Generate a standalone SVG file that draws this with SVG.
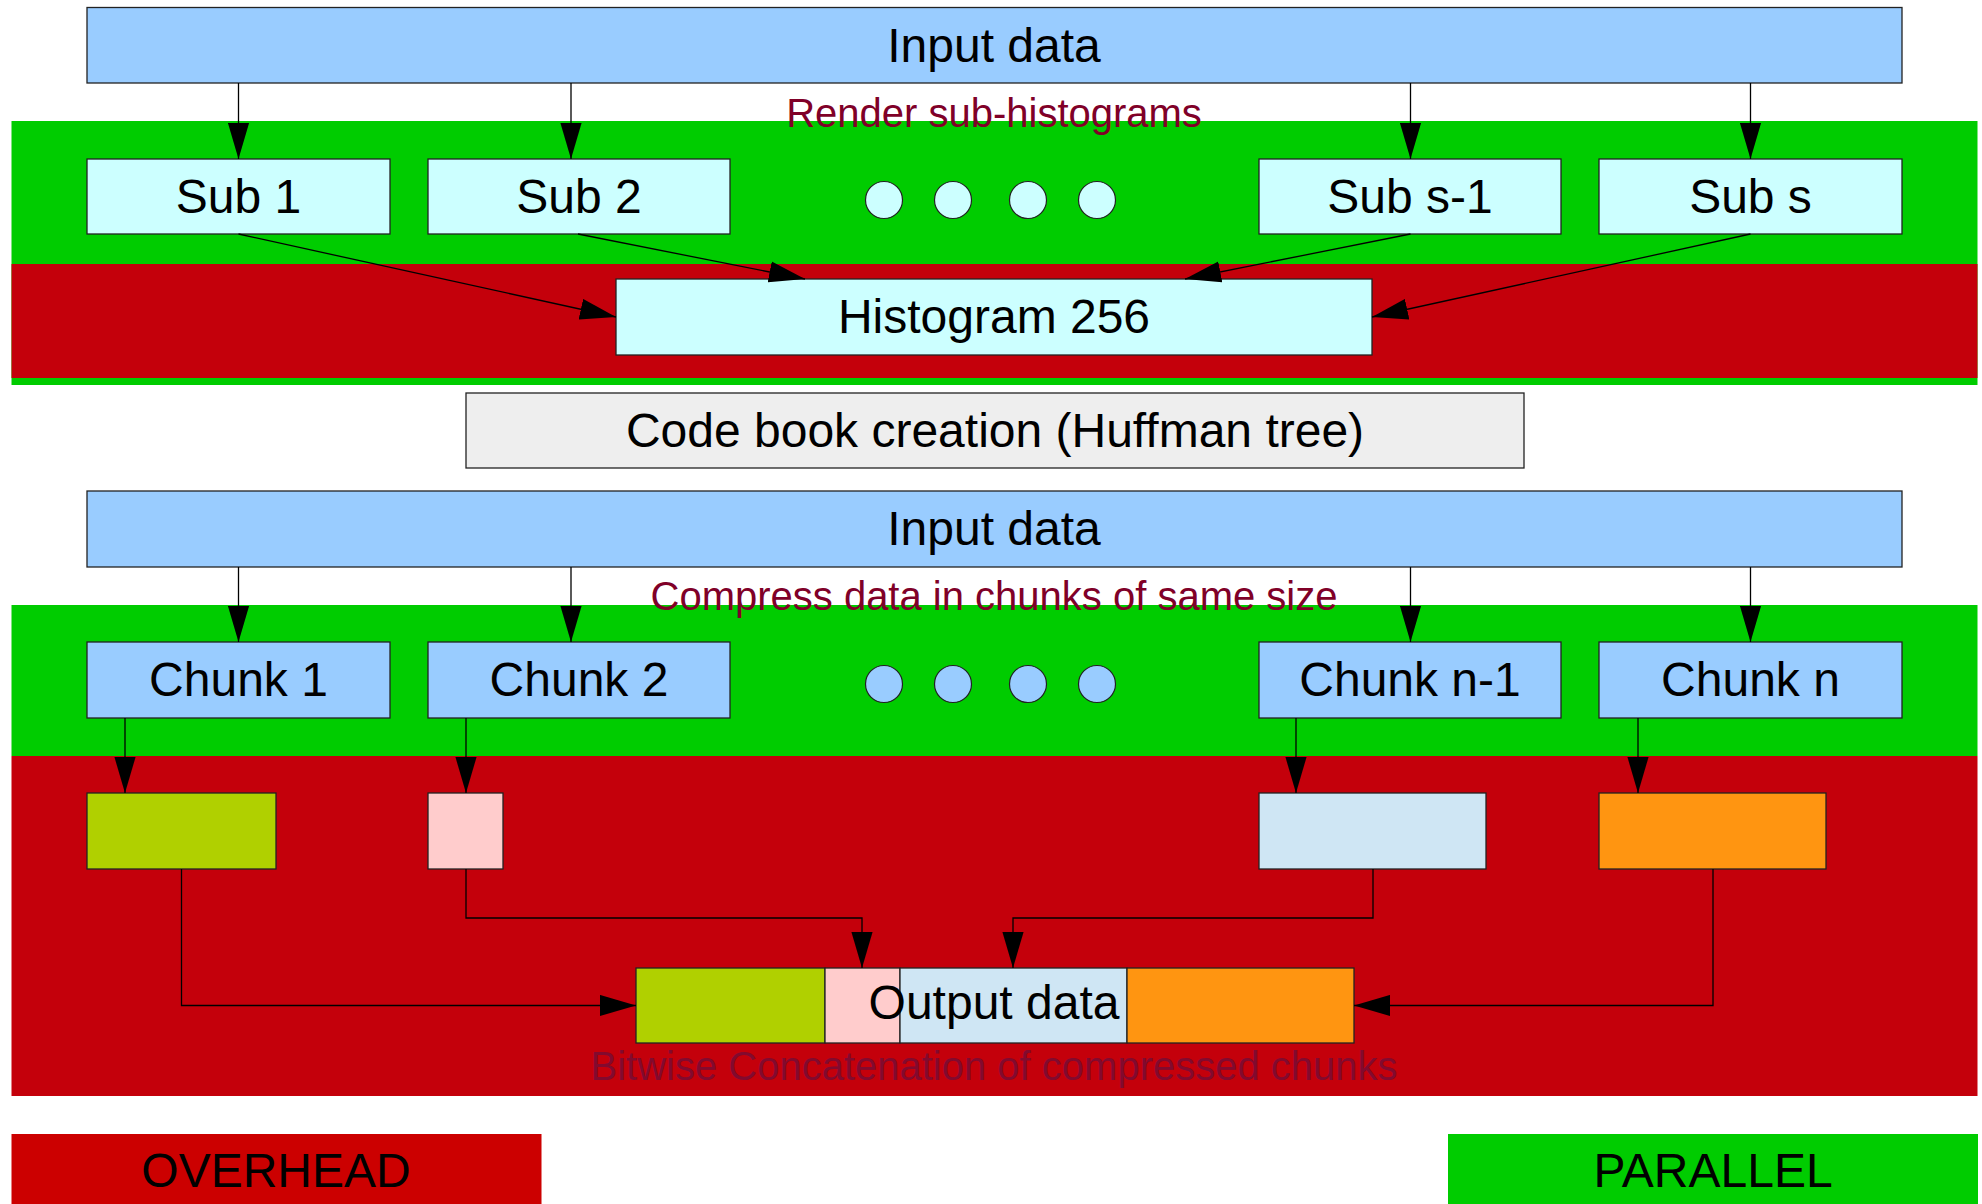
<svg xmlns="http://www.w3.org/2000/svg" width="1982" height="1204" viewBox="0 0 1982 1204">
<style>
text{font-family:"Liberation Sans",Arial,sans-serif;text-anchor:middle}
.big{font-size:48px;fill:#000}
.lbl{font-size:40px;fill:#800028}
.box{stroke:#222;stroke-width:1.3}
.blue{fill:#99ccff}
.cyan{fill:#ccffff}
.conn{fill:none;stroke:#000;stroke-width:1.3}
.dot{stroke:#222;stroke-width:1.2}
</style>
<defs>
<marker id="ah" markerUnits="userSpaceOnUse" markerWidth="36" markerHeight="22" viewBox="0 0 34 20" refX="34" refY="10" orient="auto">
<path d="M0,0 L34,10 L0,20 z" fill="#000"/>
</marker>
</defs>
<rect width="1982" height="1204" fill="#fff"/>
<g id="bands">
<rect x="11.5" y="121" width="1966" height="264" fill="#00cc00"/>
<rect x="11.5" y="264" width="1966" height="114" fill="#c4000b"/>
<rect x="11.5" y="605" width="1966" height="151" fill="#00cc00"/>
<rect x="11.5" y="756" width="1966" height="340" fill="#c4000b"/>
</g>
<g id="label-render"><text class="lbl" x="994" y="127">Render sub-histograms</text></g>
<g id="input1"><rect class="box blue" x="87" y="7.5" width="1815" height="75.5"/><text class="big" x="994" y="62">Input data</text></g>
<g id="sub1"><rect class="box cyan" x="87" y="159" width="303" height="75"/><text class="big" x="238.5" y="213">Sub 1</text></g>
<g id="sub2"><rect class="box cyan" x="428" y="159" width="302" height="75"/><text class="big" x="579" y="213">Sub 2</text></g>
<g id="subs1"><rect class="box cyan" x="1259" y="159" width="302" height="75"/><text class="big" x="1410" y="213">Sub s-1</text></g>
<g id="subs"><rect class="box cyan" x="1599" y="159" width="303" height="75"/><text class="big" x="1750.5" y="213">Sub s</text></g>
<g id="dots1" class="cyan">
<ellipse class="dot" cx="884" cy="200" rx="18.5" ry="18.5"/>
<ellipse class="dot" cx="953" cy="200" rx="18.5" ry="18.5"/>
<ellipse class="dot" cx="1028" cy="200" rx="18.5" ry="18.5"/>
<ellipse class="dot" cx="1097" cy="200" rx="18.5" ry="18.5"/>
</g>
<g id="hist"><rect class="box cyan" x="616" y="279" width="756" height="76"/><text class="big" x="994" y="333">Histogram 256</text></g>
<g id="codebook"><rect class="box" fill="#eeeeee" x="466" y="393" width="1058" height="75"/><text class="big" x="995" y="447">Code book creation (Huffman tree)</text></g>
<g id="label-compress"><text class="lbl" x="994" y="610">Compress data in chunks of same size</text></g>
<g id="input2"><rect class="box blue" x="87" y="491" width="1815" height="76"/><text class="big" x="994" y="545">Input data</text></g>
<g id="chunk1"><rect class="box blue" x="87" y="642" width="303" height="76"/><text class="big" x="238.5" y="696">Chunk 1</text></g>
<g id="chunk2"><rect class="box blue" x="428" y="642" width="302" height="76"/><text class="big" x="579" y="696">Chunk 2</text></g>
<g id="chunkn1"><rect class="box blue" x="1259" y="642" width="302" height="76"/><text class="big" x="1410" y="696">Chunk n-1</text></g>
<g id="chunkn"><rect class="box blue" x="1599" y="642" width="303" height="76"/><text class="big" x="1750.5" y="696">Chunk n</text></g>
<g id="dots2" class="blue">
<ellipse class="dot" cx="884" cy="684" rx="18.5" ry="18.5"/>
<ellipse class="dot" cx="953" cy="684" rx="18.5" ry="18.5"/>
<ellipse class="dot" cx="1028" cy="684" rx="18.5" ry="18.5"/>
<ellipse class="dot" cx="1097" cy="684" rx="18.5" ry="18.5"/>
</g>
<g id="comp1"><rect class="box" fill="#b0d000" x="87" y="793" width="189" height="76"/></g>
<g id="comp2"><rect class="box" fill="#ffcccc" x="428" y="793" width="75" height="76"/></g>
<g id="compn1"><rect class="box" fill="#cfe6f4" x="1259" y="793" width="227" height="76"/></g>
<g id="compn"><rect class="box" fill="#ff9511" x="1599" y="793" width="227" height="76"/></g>
<g id="output">
<rect class="box" fill="#b0d000" x="636" y="968" width="189" height="75"/>
<rect class="box" fill="#ffcccc" x="825" y="968" width="75" height="75"/>
<rect class="box" fill="#cfe6f4" x="900" y="968" width="227" height="75"/>
<rect class="box" fill="#ff9511" x="1127" y="968" width="227" height="75"/>
<text class="big" x="994" y="1019">Output data</text>
</g>
<g id="label-bitwise"><text class="lbl" x="994" y="1080" style="fill:#820a2e">Bitwise Concatenation of compressed chunks</text></g>
<g id="connectors" class="conn">
<path marker-end="url(#ah)" d="M238.5,83 V159"/>
<path marker-end="url(#ah)" d="M571,83 V159"/>
<path marker-end="url(#ah)" d="M1410.5,83 V159"/>
<path marker-end="url(#ah)" d="M1750.5,83 V159"/>
<path marker-end="url(#ah)" d="M238.5,234 L616,317"/>
<path marker-end="url(#ah)" d="M578,234 L805,279"/>
<path marker-end="url(#ah)" d="M1410.5,234 L1185,279"/>
<path marker-end="url(#ah)" d="M1750.5,234 L1372,317"/>
<path marker-end="url(#ah)" d="M238.5,567 V642"/>
<path marker-end="url(#ah)" d="M571,567 V642"/>
<path marker-end="url(#ah)" d="M1410.5,567 V642"/>
<path marker-end="url(#ah)" d="M1750.5,567 V642"/>
<path marker-end="url(#ah)" d="M125,718 V793"/>
<path marker-end="url(#ah)" d="M466,718 V793"/>
<path marker-end="url(#ah)" d="M1296,718 V793"/>
<path marker-end="url(#ah)" d="M1638,718 V793"/>
<path marker-end="url(#ah)" d="M181.5,869 V1005.5 H636"/>
<path marker-end="url(#ah)" d="M466,869 V918 H862 V968"/>
<path marker-end="url(#ah)" d="M1373,869 V918 H1013 V968"/>
<path marker-end="url(#ah)" d="M1713,869 V1005.5 H1354"/>
</g>
<g id="legend-overhead"><rect x="11.5" y="1134" width="530" height="72" fill="#cc0000"/><text class="big" x="276" y="1187">OVERHEAD</text></g>
<g id="legend-parallel"><rect x="1448" y="1134" width="530" height="72" fill="#00cc00"/><text class="big" x="1713" y="1187">PARALLEL</text></g>
</svg>
